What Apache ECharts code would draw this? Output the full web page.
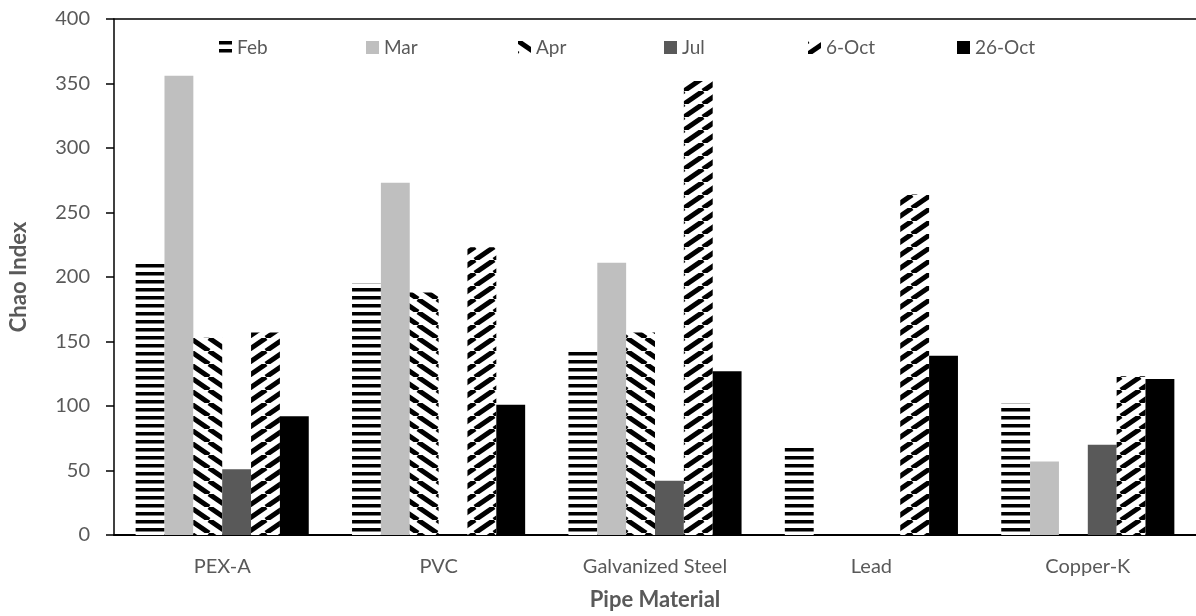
<!DOCTYPE html>
<html>
<head>
<meta charset="utf-8">
<script src="https://cdn.jsdelivr.net/npm/echarts@6/dist/echarts.min.js"></script>
<style>html,body{margin:0;padding:0;background:#fff}#c{width:1196px;height:616px}</style>
</head>
<body>
<div id="c"></div>
<script>
var categories = ['PEX-A', 'PVC', 'Galvanized Steel', 'Lead', 'Copper-K'];
var seriesNames = ['Feb', 'Mar', 'Apr', 'Jul', '6-Oct', '26-Oct'];
var feb = [212, 195, 143, 70, 102];
var mar = [356, 273, 211, null, 57];
var apr = [153, 188, 157, null, null];
var jul = [51, null, 42, null, 70];
var oct6 = [157, 223, 352, 264, 123];
var oct26 = [92, 101, 127, 139, 121];
var yTicks = [0, 50, 100, 150, 200, 250, 300, 350, 400];

function hStripes() {
  var c = document.createElement('canvas');
  c.width = 8; c.height = 8;
  var g = c.getContext('2d');
  g.fillStyle = '#fff'; g.fillRect(0, 0, 8, 8);
  g.fillStyle = '#000'; g.fillRect(0, 0, 8, 3.5);
  return c;
}
function diag(up) {
  var W = 19, H = 13;
  var c = document.createElement('canvas');
  c.width = W; c.height = H;
  var g = c.getContext('2d');
  g.fillStyle = '#fff'; g.fillRect(0, 0, W, H);
  g.strokeStyle = '#000'; g.lineWidth = 5;
  for (var k = -1; k <= 1; k++) {
    g.beginPath();
    if (up) { g.moveTo(k * W, H); g.lineTo((k + 1) * W, 0); }
    else { g.moveTo(k * W, 0); g.lineTo((k + 1) * W, H); }
    g.stroke();
  }
  return c;
}
var fills = [
  { image: hStripes(), repeat: 'repeat' },
  '#BFBFBF',
  { image: diag(false), repeat: 'repeat' },
  '#595959',
  { image: diag(true), repeat: 'repeat' },
  '#000000'
];
var dataSets = [feb, mar, apr, jul, oct6, oct26];
var legendLeft = [219, 366, 518, 664, 808, 957];

var txt = '#595959';
var font = 'Lato, "Liberation Sans", sans-serif';

var chart = echarts.init(document.getElementById('c'), null, { renderer: 'canvas' });
var series = seriesNames.map(function (n, i) {
  return {
    name: n, type: 'bar', data: dataSets[i],
    barGap: '0%', barCategoryGap: '20%',
    itemStyle: { color: fills[i] },
    animation: false
  };
});
var legends = seriesNames.map(function (n, i) {
  return {
    data: [n], left: legendLeft[i], top: 38, padding: 0,
    icon: 'rect', itemWidth: 13, itemHeight: 13,
    textStyle: { color: txt, fontSize: 19, fontFamily: font }
  };
});
chart.setOption({
  backgroundColor: '#fff',
  textStyle: { fontFamily: font },
  animation: false,
  legend: legends,
  grid: { left: 114, right: 0, top: 19, bottom: 79, containLabel: false },
  xAxis: [{
    type: 'category', data: categories, position: 'bottom',
    axisLine: { lineStyle: { color: '#000', width: 2 } },
    axisTick: { show: false },
    axisLabel: { color: txt, fontSize: 20, margin: 22, fontFamily: font },
    name: 'Pipe Material', nameLocation: 'middle', nameGap: 54,
    nameTextStyle: { color: txt, fontSize: 22, fontWeight: 'bold', fontFamily: font }
  }, {
    type: 'category', data: categories, position: 'top',
    axisLine: { show: true, lineStyle: { color: '#000', width: 1.5 } },
    axisTick: { show: false }, axisLabel: { show: false }
  }],
  yAxis: {
    type: 'value', min: yTicks[0], max: yTicks[yTicks.length - 1], interval: 50,
    axisLine: { show: true, lineStyle: { color: '#000', width: 1.5 } },
    axisTick: { show: true, length: 8, lineStyle: { color: '#000', width: 1.5 } },
    splitLine: { show: false },
    axisLabel: { color: txt, fontSize: 20, margin: 24, fontFamily: font },
    name: 'Chao Index', nameLocation: 'middle', nameGap: 84,
    nameTextStyle: { color: txt, fontSize: 22, fontWeight: 'bold', fontFamily: font }
  },
  series: series
});
</script>
</body>
</html>
